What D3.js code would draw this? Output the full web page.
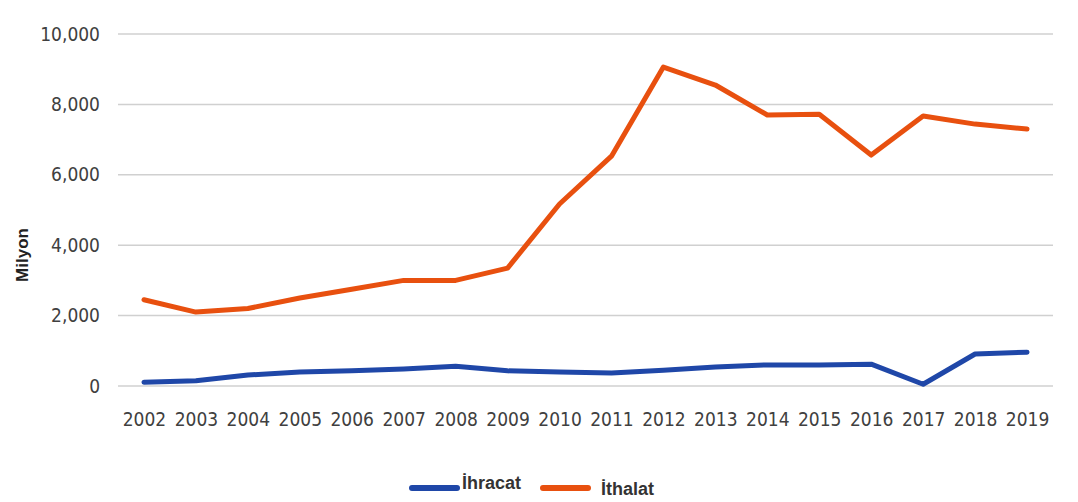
<!DOCTYPE html>
<html>
<head>
<meta charset="utf-8">
<script src="https://cdn.jsdelivr.net/npm/d3@7"></script>
<style>
  body { margin: 0; background: #fff; }
  svg { display: block; }
  .tick text { font-family: "Liberation Sans Narrow", "DejaVu Sans Condensed", sans-serif; font-size: 19px; fill: #404040; }
</style>
</head>
<body>
<svg id="chart" width="1078" height="502"></svg>
<script>
const years = [2002, 2003, 2004, 2005, 2006, 2007, 2008, 2009, 2010, 2011, 2012, 2013, 2014, 2015, 2016, 2017, 2018, 2019];
const ihracat = [110, 150, 310, 400, 430, 480, 560, 430, 400, 370, 450, 540, 600, 600, 620, 50, 910, 960];
const ithalat = [2450, 2100, 2200, 2500, 2750, 3000, 3000, 3350, 5170, 6530, 9060, 8550, 7700, 7720, 6560, 7670, 7440, 7300];
const yTicks = [0, 2000, 4000, 6000, 8000, 10000];

const svg = d3.select("#chart");
const plotLeft = 118, plotRight = 1053, plotTop = 34, plotBottom = 386;

const x = d3.scalePoint().domain(years).range([plotLeft, plotRight]).padding(0.5);
const y = d3.scaleLinear().domain([0, 10000]).range([plotBottom, plotTop]);

// grid lines
svg.append("g")
  .selectAll("line")
  .data(yTicks)
  .join("line")
  .attr("x1", plotLeft).attr("x2", plotRight)
  .attr("y1", d => y(d)).attr("y2", d => y(d))
  .attr("stroke", "#d0d0d0").attr("stroke-width", 1.5);

const yAxis = svg.append("g")
  .attr("transform", `translate(${plotLeft - 18},0)`)
  .call(d3.axisLeft(y).tickValues(yTicks).tickFormat(d3.format(",")).tickSize(0).tickPadding(0));
yAxis.select(".domain").remove();

const xAxis = svg.append("g")
  .attr("transform", `translate(0,${plotBottom + 22})`)
  .call(d3.axisBottom(x).tickSize(0).tickPadding(5));
xAxis.select(".domain").remove();

svg.append("text")
  .attr("transform", `translate(28,255) rotate(-90)`)
  .attr("text-anchor", "middle")
  .attr("font-family", "Liberation Sans, Arial, sans-serif")
  .attr("font-weight", "bold")
  .attr("font-size", 17)
  .attr("fill", "#222")
  .text("Milyon");

const line = d3.line().x((d, i) => x(years[i])).y(d => y(d));

svg.append("path").datum(ithalat)
  .attr("d", line).attr("fill", "none")
  .attr("stroke", "#e8500f").attr("stroke-width", 5)
  .attr("stroke-linejoin", "round").attr("stroke-linecap", "round");

svg.append("path").datum(ihracat)
  .attr("d", line).attr("fill", "none")
  .attr("stroke", "#1f47a8").attr("stroke-width", 5)
  .attr("stroke-linejoin", "round").attr("stroke-linecap", "round");

// legend
const legend = [
  { name: "İhracat", color: "#1f47a8", x: 412, ty: 489 },
  { name: "İthalat", color: "#e8500f", x: 543, ty: 495 }
];
const lg = svg.append("g");
lg.selectAll("line")
  .data(legend)
  .join("line")
  .attr("x1", d => d.x).attr("x2", d => d.x + 45)
  .attr("y1", 488).attr("y2", 488)
  .attr("stroke", d => d.color).attr("stroke-width", 6)
  .attr("stroke-linecap", "round");
lg.selectAll("text")
  .data(legend)
  .join("text")
  .attr("x", d => d.x + (d.name === "İhracat" ? 50 : 58))
  .attr("y", d => d.ty)
  .attr("font-family", "Liberation Sans, Arial, sans-serif")
  .attr("font-weight", "bold")
  .attr("font-size", 18)
  .attr("fill", "#333")
  .text(d => d.name);
</script>
</body>
</html>
